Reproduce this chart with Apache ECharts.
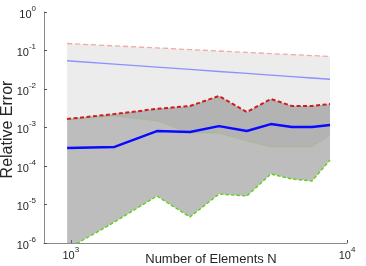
<!DOCTYPE html>
<html>
<head>
<meta charset="utf-8">
<script src="https://cdn.jsdelivr.net/npm/echarts@6/dist/echarts.min.js"></script>
<style>html,body{margin:0;padding:0;background:#fff}#c{width:366px;height:266px}</style>
</head>
<body>
<div id="c"></div>
<script>
// Number of elements
const N = [970, 1440, 2050, 2700, 3440, 4340, 5300, 6320, 7470, 8680];
// Method A (light): max, mean, min
const maxA = [0.152, 0.132, 0.117, 0.1055, 0.097, 0.0893, 0.0830, 0.0783, 0.0738, 0.0699];
const meanA = [0.0543, 0.0443, 0.0371, 0.0323, 0.0286, 0.0254, 0.0230, 0.0210, 0.0193, 0.0179];
const minA = [1.57e-3, 1.99e-3, 1.48e-3, 7.2e-4, 7.2e-4, 4.46e-4, 3.12e-4, 3.12e-4, 3.12e-4, 6.38e-4];
// Method B (dark): max, mean, min
const maxB = [1.66e-3, 2.24e-3, 3.05e-3, 3.62e-3, 6.58e-3, 2.53e-3, 5.50e-3, 3.62e-3, 3.62e-3, 4.08e-3];
const meanB = [2.94e-4, 3.12e-4, 8.11e-4, 7.64e-4, 1.09e-3, 8.11e-4, 1.23e-3, 1.03e-3, 1.03e-3, 1.16e-3];
const minB = [6.9e-7, 3.51e-6, 1.66e-5, 4.73e-6, 1.87e-5, 1.66e-5, 6.2e-5, 4.59e-5, 4.08e-5, 1.43e-4];
// Tick values
const xTicks = [1000, 10000];
const yTicks = [1e-6, 1e-5, 1e-4, 1e-3, 1e-2, 1e-1, 1];

const FONT = 'Liberation Sans, Arial, sans-serif';
const pairs = arr => arr.map((v, i) => [N[i], v]);

function band(upper, lower, color) {
  return {
    type: 'custom',
    silent: true,
    z: 1,
    data: [[N[0], upper[0]]],
    renderItem: function (params, api) {
      const pts = [];
      for (let i = 0; i < N.length; i++) pts.push(api.coord([N[i], upper[i]]));
      for (let i = N.length - 1; i >= 0; i--) pts.push(api.coord([N[i], lower[i]]));
      const cs = params.coordSys;
      return {
        type: 'polygon',
        shape: { points: pts },
        style: { fill: color, stroke: null },
        clipPath: { type: 'rect', shape: { x: cs.x, y: cs.y, width: cs.width, height: cs.height } }
      };
    }
  };
}

function line(vals, color, width, type, z) {
  return {
    type: 'line',
    data: pairs(vals),
    showSymbol: false,
    symbol: 'none',
    silent: true,
    clip: true,
    z: z,
    lineStyle: { color: color, width: width, type: type }
  };
}

const fmt = v => '{b|10}{s|' + Math.round(Math.log10(v)) + '}';
const rich = {
  b: { fontSize: 11, color: '#262626', fontFamily: FONT, padding: [5, 0, 0, 0] },
  s: { fontSize: 8, color: '#262626', fontFamily: FONT, padding: [0, 0, 7, 0] }
};

const chart = echarts.init(document.getElementById('c'), null, { renderer: 'canvas' });
chart.setOption({
  animation: false,
  backgroundColor: '#ffffff',
  grid: { left: 44, top: 12, width: 303, height: 231, containLabel: false, outerBoundsMode: 'none' },
  xAxis: {
    type: 'log', logBase: 10, min: 800, max: 10000,
    name: 'Number of Elements N', nameLocation: 'middle', nameGap: 10, nameMoveOverlap: false,
    nameTextStyle: { fontSize: 13, color: '#262626', fontFamily: FONT, padding: [0, 0, 0, 31] },
    axisLine: { lineStyle: { color: '#8a8a8a', width: 1 } },
    axisTick: { inside: true, length: 3, customValues: xTicks, lineStyle: { color: '#555' } },
    axisLabel: { customValues: xTicks, formatter: fmt, rich: rich, margin: 2 },
    splitLine: { show: false }, minorTick: { show: false }
  },
  yAxis: {
    type: 'log', logBase: 10, min: 1e-6, max: 1,
    name: 'Relative Error', nameLocation: 'middle', nameGap: 28, nameMoveOverlap: false,
    nameTextStyle: { fontSize: 16, color: '#262626', fontFamily: FONT, padding: [0, 4, 0, 0] },
    axisLine: { lineStyle: { color: '#8a8a8a', width: 1 } },
    axisTick: { inside: true, length: 3, customValues: yTicks, lineStyle: { color: '#555' } },
    axisLabel: { customValues: yTicks, formatter: fmt, rich: rich, margin: 8 },
    splitLine: { show: false }, minorTick: { show: false }
  },
  series: [
    band(maxA, minA, 'rgba(128,128,128,0.15)'),
    band(maxB, minB, 'rgba(115,115,115,0.47)'),
    line(maxA, '#f2a9a9', 1.3, [5, 3], 3),
    line(meanA, '#8f8fff', 1.4, 'solid', 3),
    line(minA, 'rgba(130,190,80,0.35)', 0.8, 'solid', 3),
    line(maxB, '#d01c1c', 2, [4, 2.5], 4),
    line(meanB, '#0a0aff', 2.4, 'solid', 4),
    line(minB, '#5fd01a', 1.4, [3.5, 2], 4)
  ]
});
</script>
</body>
</html>
